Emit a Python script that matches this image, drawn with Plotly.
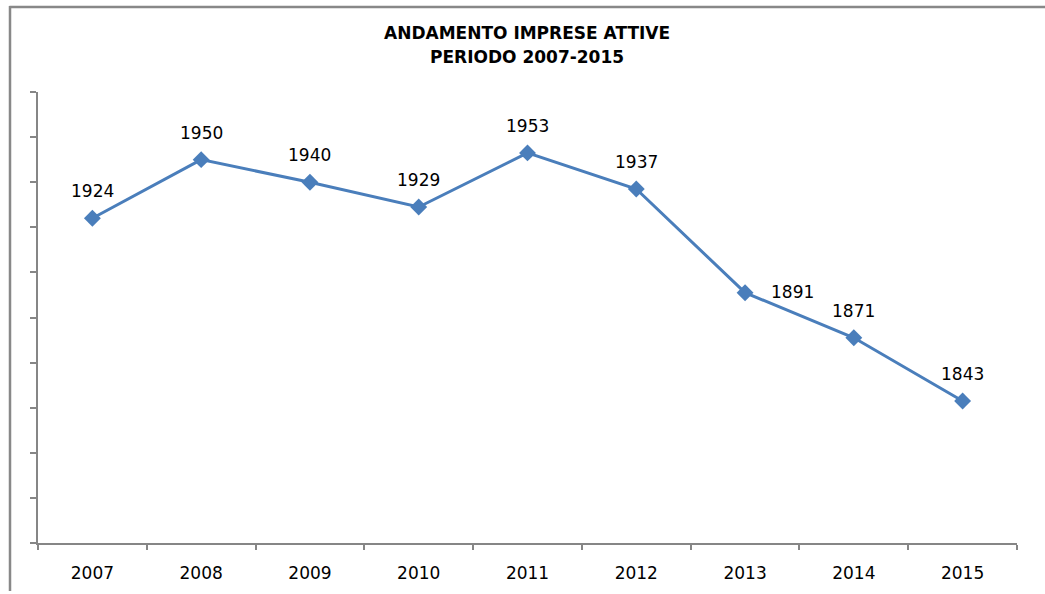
import plotly.graph_objects as go

years = ["2007", "2008", "2009", "2010", "2011", "2012", "2013", "2014", "2015"]
imprese = [1924, 1950, 1940, 1929, 1953, 1937, 1891, 1871, 1843]
label_pos = ["top", "top", "top", "top", "top", "top", "right", "top", "top"]
title_lines = ["ANDAMENTO IMPRESE ATTIVE", "PERIODO 2007-2015"]

W, H = 1045, 594
L, R, T, B = 38, 28, 92, 51
pw, ph = W - L - R, H - T - B

def px_x(p):
    return (p - L) / pw

def px_y(p):
    return (H - B - p) / ph

blue = "#4A7EBB"
gray = "#868686"
font_fam = "DejaVu Sans"

fig = go.Figure()
fig.add_trace(go.Scatter(
    x=years, y=imprese, mode="lines+markers",
    line=dict(color=blue, width=3),
    marker=dict(symbol="diamond", size=13, color=blue),
    cliponaxis=False,
    showlegend=False,
))

annotations = []
for i, (v, pos) in enumerate(zip(imprese, label_pos)):
    if pos == "right":
        annotations.append(dict(x=i, y=v, xref="x", yref="y", text=str(v),
                                showarrow=False, xanchor="left", yanchor="middle",
                                xshift=24, yshift=1,
                                font=dict(family=font_fam, size=17, color="#000000")))
    else:
        annotations.append(dict(x=i, y=v, xref="x", yref="y", text=str(v),
                                showarrow=False, xanchor="center", yanchor="middle",
                                yshift=27,
                                font=dict(family=font_fam, size=17, color="#000000")))

for i, line in enumerate(title_lines):
    annotations.append(dict(x=px_x(527), y=px_y(33 + 24 * i), xref="paper", yref="paper",
                            text=line, showarrow=False, xanchor="center", yanchor="middle",
                            font=dict(family=font_fam, size=17, color="#000000", weight="bold")))

fig.update_layout(
    width=W, height=H,
    margin=dict(l=L, r=R, t=T, b=B),
    paper_bgcolor="white", plot_bgcolor="white",
    xaxis=dict(
        type="category", range=[-0.5, 8.5],
        showline=True, linecolor=gray, linewidth=1.5,
        ticks="outside", tickson="boundaries", ticklen=5, tickcolor=gray, tickwidth=1.5,
        ticklabelstandoff=14,
        showgrid=False, zeroline=False,
        tickfont=dict(family=font_fam, size=17, color="#000000"),
    ),
    yaxis=dict(
        range=[1780, 1980], dtick=20, tick0=1780,
        showline=True, linecolor=gray, linewidth=1.5,
        ticks="outside", ticklen=6, tickcolor=gray, tickwidth=1.5,
        showticklabels=False, showgrid=False, zeroline=False,
    ),
    annotations=annotations,
    shapes=[
        dict(type="line", xref="paper", yref="paper",
             x0=px_x(9.5), x1=px_x(1050), y0=px_y(7), y1=px_y(7),
             line=dict(color="#888888", width=2.5)),
        dict(type="line", xref="paper", yref="paper",
             x0=px_x(10), x1=px_x(10), y0=px_y(6), y1=px_y(591),
             line=dict(color="#888888", width=2.5)),
    ],
)

fig.write_html("out.html",
               config={"displayModeBar": False},
               post_script="document.body.style.margin='0';document.body.style.overflow='hidden';")
